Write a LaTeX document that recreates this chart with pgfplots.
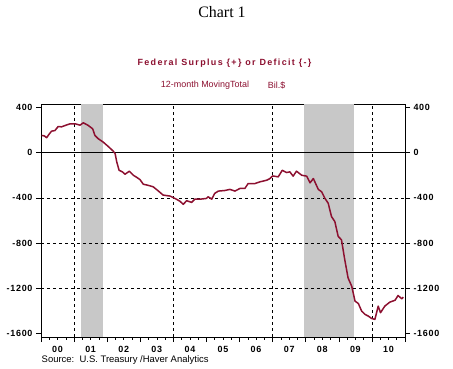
\documentclass[border=0pt]{standalone}
\usepackage{pgfplots}
\pgfplotsset{compat=1.18}
\usepackage{fontspec}
\setmainfont{Liberation Sans}
\newfontfamily\serifchart{Liberation Serif}
\definecolor{maroon}{RGB}{140,16,48}
\definecolor{recess}{RGB}{200,200,200}
\begin{document}
\begin{tikzpicture}
\useasboundingbox (0bp,0bp) rectangle (453bp,369bp);
\begin{axis}[
  at={(41bp,32bp)}, anchor=south west, scale only axis,
  width=364bp, height=233bp,
  xmin=2000, xmax=2011, ymin=-1630, ymax=430,
  axis line style={black, line width=0.6bp},
  tick align=outside,
  tick style={black, line width=0.6bp},
  major tick length=5bp, minor tick length=3bp,
  xtick={2000,2001,2002,2003,2004,2005,2006,2007,2008,2009,2010,2011},
  xticklabels={},
  minor x tick num=3,
  xtick pos=bottom,
  extra x ticks={2000.5,2001.5,2002.5,2003.5,2004.5,2005.5,2006.5,2007.5,2008.5,2009.5,2010.5},
  extra x tick labels={00,01,02,03,04,05,06,07,08,09,10},
  extra x tick style={major tick length=0pt, tick style={draw=none}},
  xticklabel style={yshift=-6bp},
  ytick={-1600,-1200,-800,-400,0,400},
  yticklabels={-1600,-1200,-800,-400,0,400},
  ytick pos=left,
  ticklabel style={font=\bfseries\fontsize{9}{9}\selectfont\addfontfeature{LetterSpace=8}},
  clip=true,
]
\addplot[fill=recess, draw=none] coordinates {(2001.22,-1630) (2001.22,430) (2001.87,430) (2001.87,-1630)} -- cycle;
\addplot[fill=recess, draw=none] coordinates {(2007.95,-1630) (2007.95,430) (2009.45,430) (2009.45,-1630)} -- cycle;
\addplot[black, line width=0.6bp, dash pattern=on 3bp off 3bp] coordinates {(2001,-1630) (2001,430)};
\addplot[black, line width=0.6bp, dash pattern=on 3bp off 3bp] coordinates {(2004,-1630) (2004,430)};
\addplot[black, line width=0.6bp, dash pattern=on 3bp off 3bp] coordinates {(2007,-1630) (2007,430)};
\addplot[black, line width=0.6bp, dash pattern=on 3bp off 3bp] coordinates {(2010,-1630) (2010,430)};
\addplot[black, line width=0.6bp, dash pattern=on 3bp off 3bp] coordinates {(2000,-400) (2011,-400)};
\addplot[black, line width=0.6bp, dash pattern=on 3bp off 3bp] coordinates {(2000,-800) (2011,-800)};
\addplot[black, line width=0.6bp, dash pattern=on 3bp off 3bp] coordinates {(2000,-1200) (2011,-1200)};
\addplot[black, line width=0.6bp] coordinates {(2000,0) (2011,0)};
\addplot[maroon, line width=1.5bp, line join=round] table {
2000.02 152
2000.10 148
2000.17 132
2000.25 165
2000.32 190
2000.42 195
2000.52 231
2000.62 228
2000.73 240
2000.88 255
2001.03 255
2001.18 243
2001.28 264
2001.43 240
2001.56 211
2001.63 152
2001.73 123
2001.88 93
2002.03 55
2002.18 14
2002.24 -9
2002.29 -83
2002.36 -156
2002.46 -170
2002.54 -191
2002.67 -164
2002.79 -200
2002.90 -220
2002.99 -238
2003.09 -279
2003.25 -290
2003.39 -302
2003.55 -340
2003.69 -375
2003.80 -380
2003.90 -384
2004.10 -413
2004.20 -430
2004.30 -457
2004.40 -425
2004.55 -440
2004.65 -411
2004.85 -410
2005.00 -405
2005.05 -390
2005.16 -411
2005.25 -360
2005.36 -340
2005.55 -335
2005.71 -325
2005.86 -340
2006.01 -317
2006.16 -317
2006.26 -273
2006.47 -273
2006.62 -258
2006.82 -244
2006.92 -229
2007.00 -206
2007.17 -214
2007.29 -156
2007.42 -176
2007.52 -170
2007.62 -208
2007.72 -164
2007.88 -200
2008.03 -208
2008.13 -267
2008.23 -229
2008.38 -325
2008.48 -346
2008.58 -404
2008.68 -448
2008.78 -566
2008.88 -610
2008.98 -740
2009.08 -771
2009.18 -947
2009.28 -1108
2009.39 -1181
2009.49 -1313
2009.59 -1334
2009.69 -1401
2009.79 -1430
2009.89 -1445
2009.99 -1466
2010.09 -1474
2010.19 -1357
2010.26 -1415
2010.39 -1357
2010.54 -1322
2010.70 -1305
2010.79 -1263
2010.90 -1292
2010.95 -1278
};
\end{axis}
\begin{axis}[
  at={(41bp,32bp)}, anchor=south west, scale only axis,
  width=364bp, height=233bp,
  xmin=2000, xmax=2011, ymin=-1630, ymax=430,
  axis x line=none, axis y line*=right,
  axis line style={black, line width=0.6bp, -},
  tick align=outside,
  tick style={black, line width=0.6bp},
  major tick length=5bp,
  ytick={-1600,-1200,-800,-400,0,400},
  yticklabels={-1600,-1200,-800,-400,0,400},
  yticklabel style={anchor=west, font=\bfseries\fontsize{9}{9}\selectfont\addfontfeature{LetterSpace=8}},
]
\end{axis}
\node[font=\serifchart\fontsize{16}{16}\selectfont] at (222bp,356.5bp) {Chart 1};
\node[font=\bfseries\fontsize{9}{9}\selectfont\addfontfeature{LetterSpace=15}, text=maroon] at (224.5bp,306.3bp) {Federal Surplus \{+\} or Deficit \{-\}};
\node[font=\fontsize{9}{9}\selectfont, text=maroon, anchor=west, inner sep=0pt] at (160.7bp,284bp) {12-month MovingTotal};
\node[font=\fontsize{9}{9}\selectfont, text=maroon, anchor=west, inner sep=0pt] at (267.7bp,284bp) {Bil.\$};
\node[font=\fontsize{9.5}{9.5}\selectfont, anchor=west, inner sep=0pt] at (41.5bp,9bp) {Source:\ \ U.S. Treasury /Haver Analytics};
\end{tikzpicture}
\end{document}
